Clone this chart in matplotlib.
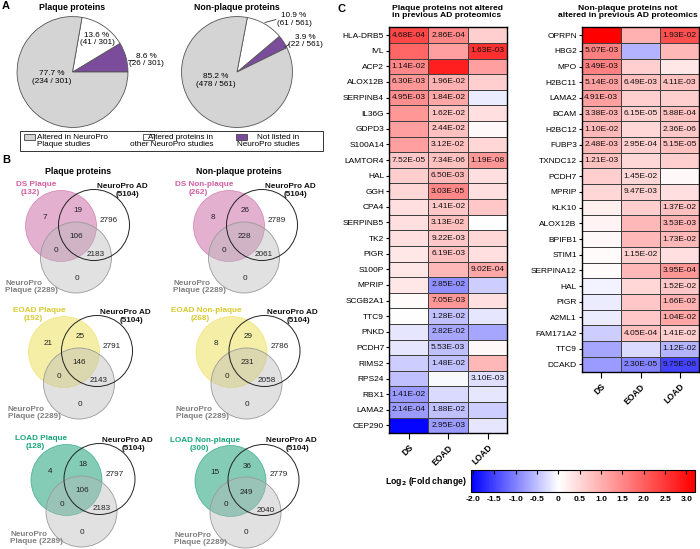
import numpy as np
import matplotlib
matplotlib.use("Agg")
import matplotlib.pyplot as plt
from matplotlib.colors import LinearSegmentedColormap, Normalize
from matplotlib.cm import ScalarMappable
from matplotlib.patches import Circle, Rectangle

plt.rcParams['font.family'] = ['Liberation Sans', 'DejaVu Sans']

W, H = 700, 549

# ---------------- data ----------------
pie_titles = ["Plaque proteins", "Non-plaque proteins"]
pie_categories = ["Not listed in\nNeuroPro studies",
                  "Altered proteins in\nother NeuroPro studies",
                  "Altered in NeuroPro\nPlaque studies"]
plaque_counts = [26, 41, 234]
nonplaque_counts = [22, 61, 478]
pie_colors = ["#7b4c9c", "#ffffff", "#d4d4d4"]

venn_titles = ["DS Plaque", "DS Non-plaque", "EOAD Plaque", "EOAD Non-plaque",
               "LOAD Plaque", "LOAD Non-plaque"]
venn_sizes = [132, 262, 192, 268, 128, 300]
# regions: set only, set&AD, AD only, set&AD&NP, set&NP, AD&NP, NP only
venn_counts = [
    [7, 19, 2796, 106, 0, 2183, 0],
    [8, 26, 2789, 228, 0, 2061, 0],
    [21, 25, 2791, 146, 0, 2143, 0],
    [8, 29, 2786, 231, 0, 2058, 0],
    [4, 18, 2797, 106, 0, 2183, 0],
    [15, 36, 2779, 249, 0, 2040, 0],
]
ad_total = 5104
np_total = 2289

conditions = ["DS", "EOAD", "LOAD"]

hm1_genes = ["HLA-DRB5", "IVL", "ACP2", "ALOX12B", "SERPINB4", "IL36G", "GDPD3",
             "S100A14", "LAMTOR4", "HAL", "GGH", "CPA4", "SERPINB5", "TK2", "PIGR",
             "S100P", "MPRIP", "SCGB2A1", "TTC9", "PNKD", "PCDH7", "RIMS2", "RPS24",
             "RBX1", "LAMA2", "CEP290"]
hm1_values = [
    [2.3, 1.5, 0.6], [1.9, 1.2, 2.6], [1.5, 2.8, 1.2], [1.3, 1.0, 0.6],
    [1.4, 1.1, -0.15], [1.3, 0.8, 0.4], [1.2, 0.8, 0.1], [1.2, 0.8, 0.5],
    [0.7, 0.8, 1.3], [0.6, 0.9, 0.4], [0.5, 1.5, 0.4], [0.4, 0.7, 0.7],
    [0.4, 0.8, 0.0], [0.4, 0.7, 0.5], [0.3, 0.8, 0.4], [0.3, 0.9, 1.1],
    [0.3, -0.9, -0.4], [0.05, 1.3, 0.4], [0.0, -0.5, -0.2], [-0.2, -0.7, -0.7],
    [-0.2, -0.5, 0.1], [-0.4, -0.5, 0.9], [-0.5, -0.05, -0.25], [-0.8, -0.3, -0.2],
    [-0.8, -0.5, -0.4], [-2.0, -0.8, -0.2],
]
hm1_pvals = [
    ["4.68E-04", "2.86E-04", ""], ["", "", "1.63E-03"], ["1.14E-02", "", ""],
    ["6.30E-03", "1.96E-02", ""], ["4.95E-03", "1.84E-02", ""], ["", "1.62E-02", ""],
    ["", "2.44E-02", ""], ["", "3.12E-02", ""], ["7.52E-05", "7.34E-06", "1.19E-08"],
    ["", "6.50E-03", ""], ["", "3.03E-05", ""], ["", "1.41E-02", ""],
    ["", "3.13E-02", ""], ["", "9.22E-03", ""], ["", "6.19E-03", ""],
    ["", "", "9.02E-04"], ["", "2.85E-02", ""], ["", "7.05E-03", ""],
    ["", "1.28E-02", ""], ["", "2.82E-02", ""], ["", "5.53E-03", ""],
    ["", "1.48E-02", ""], ["", "", "3.10E-03"], ["1.41E-02", "", ""],
    ["2.14E-04", "1.88E-02", ""], ["", "2.95E-03", ""],
]

hm2_genes = ["OPRPN", "HBG2", "MPO", "H2BC11", "LAMA2", "BCAM", "H2BC12", "FUBP3",
             "TXNDC12", "PCDH7", "MPRIP", "KLK10", "ALOX12B", "BPIFB1", "STIM1",
             "SERPINA12", "HAL", "PIGR", "A2ML1", "FAM171A2", "TTC9", "DCAKD"]
hm2_values = [
    [3.2, 1.0, 2.2], [1.6, -0.6, 0.9], [1.6, 0.6, 0.3], [1.2, 0.8, 0.8],
    [1.2, 0.6, 0.6], [1.0, 0.6, 0.8], [0.9, 0.5, 0.7], [0.9, 0.6, 0.8],
    [0.8, 0.5, 0.6], [0.6, 0.5, 0.1], [0.5, 0.6, 0.4], [0.2, 0.6, 0.8],
    [0.15, 0.9, 1.0], [0.1, 0.9, 0.9], [0.05, 0.6, 0.4], [0.05, 0.9, 1.3],
    [-0.1, 0.5, 0.7], [-0.15, 0.7, 1.0], [-0.15, 0.7, 1.1], [-0.4, 0.8, 0.6],
    [-0.7, -0.3, -0.6], [-0.8, -1.0, -1.5],
]
hm2_pvals = [
    ["", "", "1.93E-02"], ["5.07E-03", "", ""], ["3.49E-03", "", ""],
    ["5.14E-03", "6.49E-03", "4.11E-03"], ["4.91E-03", "", ""],
    ["3.38E-03", "6.15E-05", "5.88E-04"], ["1.10E-02", "", "2.36E-06"],
    ["2.48E-03", "2.95E-04", "5.15E-05"], ["1.21E-03", "", ""],
    ["", "1.45E-02", ""], ["", "9.47E-03", ""], ["", "", "1.37E-02"],
    ["", "", "3.53E-03"], ["", "", "1.73E-02"], ["", "1.15E-02", ""],
    ["", "", "3.95E-04"], ["", "", "1.52E-02"], ["", "", "1.66E-02"],
    ["", "", "1.04E-02"], ["", "4.05E-04", "1.41E-02"], ["", "", "1.12E-02"],
    ["", "2.30E-05", "9.75E-06"],
]

cbar_ticks = [-2.0, -1.5, -1.0, -0.5, 0, 0.5, 1.0, 1.5, 2.0, 2.5, 3.0]
vmin, vmax = -2.05, 3.2

# ---------------- figure ----------------
fig = plt.figure(figsize=(W / 100, H / 100), dpi=100)


def box(x0, y0, x1, y1):
    return [x0 / W, 1 - y1 / H, (x1 - x0) / W, (y1 - y0) / H]


ov = fig.add_axes([0, 0, 1, 1])
ov.set_xlim(0, W)
ov.set_ylim(H, 0)
ov.axis('off')
ov.set_zorder(10)

FS = 5.9

# panel letters
for lab, (x, y) in zip("ABC", [(2, 6), (2, 160), (337, 9)]):
    ov.text(x, y, lab, fontsize=8, fontweight='bold', ha='left', va='center')

# ---------------- pies ----------------
pie_centers = [(72.5, 72), (237, 72)]
pie_r = 56
pie_start = [0, 26]
pie_data = [plaque_counts, nonplaque_counts]
pie_label_pos = [
    [(146, 60), (97, 39), (52, 77.5)],
    [(305, 41), (294, 19.5), (215.5, 80.5)],
]
pie_leaders = [
    [((127.5, 59.5), (133.5, 59.5)), None, None],
    [((285, 47), (289.5, 44)), ((265, 22.5), (276, 19.5)), None],
]
for k in range(2):
    cx, cy = pie_centers[k]
    pa = fig.add_axes(box(cx - pie_r, cy - pie_r, cx + pie_r, cy + pie_r))
    pa.pie(pie_data[k], colors=pie_colors, startangle=pie_start[k], counterclock=True,
           wedgeprops=dict(edgecolor='#555555', linewidth=0.6))
    pa.set_xlim(-1.01, 1.01)
    pa.set_ylim(-1.01, 1.01)
    ov.text(cx, 8, pie_titles[k], fontsize=6.3, fontweight='bold', ha='center', va='center')
    tot = sum(pie_data[k])
    for c, (lx, ly), ld in zip(pie_data[k], pie_label_pos[k], pie_leaders[k]):
        ov.text(lx, ly, f"{100 * c / tot:.1f} %\n({c} / {tot})", fontsize=FS,
                ha='center', va='center', linespacing=1.05)
        if ld is not None:
            ov.plot([ld[0][0], ld[1][0]], [ld[0][1], ld[1][1]], color='#333333', lw=0.6)

# pie legend (manual box)
ov.add_patch(Rectangle((20, 131), 303, 19.5, fill=False, edgecolor='#333333', lw=0.7))
leg_items = [(2, 23.5, 37, 'left'), (1, 143, 213.5, 'right'), (0, 235.5, 299.5, 'right')]
for idx, sx, tx, ha in leg_items:
    ov.add_patch(Rectangle((sx, 133.5), 11, 6, facecolor=pie_colors[idx],
                           edgecolor='#444444', lw=0.6))
    ov.text(tx, 140.8, pie_categories[idx], fontsize=FS, ha=ha, va='center',
            multialignment=ha, linespacing=1.05)

# ---------------- Venns ----------------
ov.text(78, 172, "Plaque proteins", fontsize=6.3, fontweight='bold', ha='center', va='center')
ov.text(239, 172, "Non-plaque proteins", fontsize=6.3, fontweight='bold', ha='center', va='center')

venn_centers = [(61, 226), (229, 226), (64, 352), (231.5, 352), (66.5, 480), (230.5, 481)]
venn_fill = ['#cc6fa8', '#cc6fa8', '#eee060', '#eee060', '#1fa37a', '#1fa37a']
venn_label_col = ['#d060a0', '#d060a0', '#d9c92c', '#d9c92c', '#18a77c', '#18a77c']
np_label_dy = [61, 61, 61, 61, 58, 58]
R = 35.5
ad_off = (33, -1)
np_off = (15, 31.5)
num_off = [(-16, -8.5), (16.5, -15), (48, -6), (15.5, 11), (-5, 24), (35, 29), (15.5, 52)]
for k in range(6):
    cx, cy = venn_centers[k]
    ov.add_patch(Circle((cx, cy), R, facecolor=venn_fill[k], alpha=0.55, edgecolor='none'))
    ov.add_patch(Circle((cx, cy), R, fill=False, edgecolor=venn_fill[k], lw=0.5, alpha=0.8))
    ov.add_patch(Circle((cx + np_off[0], cy + np_off[1]), R, facecolor='#b8b8b8',
                        alpha=0.42, edgecolor='none'))
    ov.add_patch(Circle((cx + np_off[0], cy + np_off[1]), R, fill=False,
                        edgecolor='#9a9a9a', lw=0.6))
    ov.add_patch(Circle((cx + ad_off[0], cy + ad_off[1]), R, fill=False,
                        edgecolor='#222222', lw=0.7))
    for val, (dx, dy) in zip(venn_counts[k], num_off):
        ov.text(cx + dx, cy + dy, str(val), fontsize=FS, ha='center', va='center',
                color='#222222')
    ov.text(cx - 25, cy - 41, venn_titles[k], fontsize=FS, fontweight='bold',
            color=venn_label_col[k], ha='center', va='center')
    ov.text(cx - 31, cy - 33, f"({venn_sizes[k]})", fontsize=FS, fontweight='bold',
            color=venn_label_col[k], ha='center', va='center')
    ov.text(cx + 61, cy - 40, "NeuroPro AD", fontsize=FS, fontweight='bold',
            color='#111111', ha='center', va='center')
    ov.text(cx + 67, cy - 32, f"({ad_total})", fontsize=FS, fontweight='bold',
            color='#111111', ha='center', va='center')
    ov.text(cx - 56, cy + np_label_dy[k], f"NeuroPro\nPlaque ({np_total})", fontsize=FS,
            fontweight='bold', color='#808080', ha='left', va='center', linespacing=1.05)

# ---------------- heatmaps ----------------
z = (0 - vmin) / (vmax - vmin)
cmap = LinearSegmentedColormap.from_list('bwr2', [(0, (0, 0, 1)), (z, (1, 1, 1)), (1, (1, 0, 0))])
norm = Normalize(vmin=vmin, vmax=vmax)


def heat(ax, genes, vals, pvals, title, tx):
    v = np.array(vals)
    n = len(genes)
    ax.pcolormesh(np.arange(4), np.arange(n + 1), v, cmap=cmap, norm=norm,
                  edgecolors='#404040', linewidth=0.6)
    ax.set_xlim(0, 3)
    ax.set_ylim(n, 0)
    ax.set_yticks(np.arange(n) + 0.5)
    ax.set_yticklabels(genes, fontsize=6)
    ax.set_xticks(np.arange(3) + 0.5)
    ax.set_xticklabels(conditions, rotation=45, ha='right', rotation_mode='anchor',
                       fontsize=6.2, fontweight='bold')
    ax.tick_params(axis='y', length=2.5, width=0.8, pad=1)
    ax.tick_params(axis='x', length=4, width=0.8, pad=3)
    for s in ax.spines.values():
        s.set_linewidth(1.0)
    for i, row in enumerate(pvals):
        for j, p in enumerate(row):
            if p:
                ax.text(j + 0.5, i + 0.5, p, ha='center', va='center', fontsize=6,
                        color='#111111')
    ov.text(tx, 12, title, fontsize=6.1, fontweight='bold', ha='center', va='center',
            linespacing=1.0)


ax1 = fig.add_axes(box(389, 27.3, 507.3, 433.3))
heat(ax1, hm1_genes, hm1_values, hm1_pvals,
     "Plaque proteins not altered\nin previous AD proteomics", 447)
ax2 = fig.add_axes(box(581.7, 27.3, 699.3, 372.3))
heat(ax2, hm2_genes, hm2_values, hm2_pvals,
     "Non-plaque proteins not\naltered in previous AD proteomics", 628)

# colorbar
cax = fig.add_axes(box(471, 470, 695, 492.3))
cb = fig.colorbar(ScalarMappable(norm=norm, cmap=cmap), cax=cax, orientation='horizontal')
cb.set_ticks(cbar_ticks)
cb.set_ticklabels([("0" if t == 0 else f"{t:.1f}") for t in cbar_ticks])
cax.tick_params(axis='x', direction='in', top=True, bottom=False, labelbottom=True,
                length=3, width=0.8, labelsize=6.1, pad=3)
for lbl in cax.get_xticklabels():
    lbl.set_fontweight('bold')
cb.outline.set_linewidth(0.8)
ov.text(467, 481, r"Log$_{\mathbf{2}}$ (Fold change)", fontsize=6.3, fontweight='bold',
        ha='right', va='center')

fig.savefig("out.png", dpi=100)
